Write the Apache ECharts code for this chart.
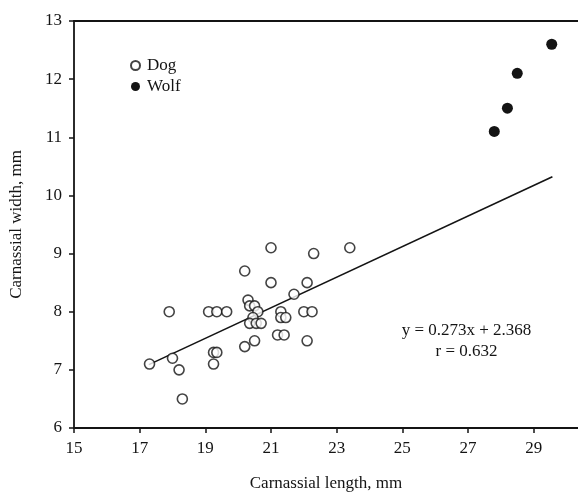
<!DOCTYPE html>
<html>
<head>
<meta charset="utf-8">
<script src="https://cdn.jsdelivr.net/npm/echarts@6/dist/echarts.min.js"></script>
<style>
html,body{margin:0;padding:0;background:#fff;}
#chart{width:578px;height:497px;}
</style>
</head>
<body>
<div id="chart"></div>
<script>
// Dog: carnassial length (mm) and width (mm)
const dogLength = [21.0, 22.3, 23.4, 20.2, 21.0, 22.1, 21.7, 20.3, 20.35, 20.5,
  17.9, 19.1, 19.35, 19.65, 20.6, 21.3, 22.0, 22.25, 20.45, 21.3, 21.45,
  20.35, 20.55, 20.7, 21.2, 21.4, 20.5, 22.1, 20.2, 19.25, 19.35, 18.0,
  17.3, 19.25, 18.2, 18.3];
const dogWidth = [9.1, 9.0, 9.1, 8.7, 8.5, 8.5, 8.3, 8.2, 8.1, 8.1,
  8.0, 8.0, 8.0, 8.0, 8.0, 8.0, 8.0, 8.0, 7.9, 7.9, 7.9,
  7.8, 7.8, 7.8, 7.6, 7.6, 7.5, 7.5, 7.4, 7.3, 7.3, 7.2,
  7.1, 7.1, 7.0, 6.5];
// Wolf
const wolfLength = [27.8, 28.2, 28.5, 29.55];
const wolfWidth = [11.1, 11.5, 12.1, 12.6];
// Regression line endpoints as drawn
const fitLength = [17.28, 29.57];
const fitWidth = [7.09, 10.32];
// Axes
const xMin = 15, xMax = 30.35, xStep = 2;
const yMin = 6, yMax = 13, yStep = 1;
const equationLines = ['y = 0.273x + 2.368', 'r = 0.632'];
const xTitle = 'Carnassial length, mm';
const yTitle = 'Carnassial width, mm';

const pair = (a, b) => a.map((v, i) => [v, b[i]]);
const FONT = 'Liberation Serif';
const INK = '#141414';

const chart = echarts.init(document.getElementById('chart'), null, {renderer: 'canvas'});
chart.setOption({
  animation: false,
  backgroundColor: '#fff',
  grid: {left: 69, right: 0, top: 21, bottom: 64, containLabel: false},
  legend: {
    data: ['Dog', 'Wolf'],
    orient: 'vertical',
    left: 130, top: 57, padding: 0,
    itemWidth: 9, itemHeight: 9, itemGap: 4,
    textStyle: {fontFamily: FONT, fontSize: 17, color: INK, padding: [0, 0, 0, 2]}
  },
  xAxis: [{
    type: 'value', min: xMin, max: xMax, interval: xStep,
    name: xTitle, nameLocation: 'middle', nameGap: 47,
    nameTextStyle: {fontFamily: FONT, fontSize: 17, color: INK},
    axisLine: {show: true, onZero: false, lineStyle: {color: INK, width: 1.8}},
    axisTick: {show: true, length: 5, lineStyle: {color: INK, width: 1.5}},
    axisLabel: {fontFamily: FONT, fontSize: 17, color: INK, margin: 12, showMaxLabel: false},
    splitLine: {show: false}
  }, {
    type: 'value', min: xMin, max: xMax, position: 'top',
    axisLine: {show: true, onZero: false, lineStyle: {color: INK, width: 1.8}},
    axisTick: {show: false}, axisLabel: {show: false}, splitLine: {show: false}
  }],
  yAxis: {
    type: 'value', min: yMin, max: yMax, interval: yStep,
    name: yTitle, nameLocation: 'middle', nameGap: 49,
    nameTextStyle: {fontFamily: FONT, fontSize: 17, color: INK},
    axisLine: {show: true, onZero: false, lineStyle: {color: INK, width: 1.8}},
    axisTick: {show: true, length: 5, lineStyle: {color: INK, width: 1.5}},
    axisLabel: {fontFamily: FONT, fontSize: 17, color: INK, margin: 12},
    splitLine: {show: false}
  },
  graphic: equationLines.map((t, i) => ({
    type: 'text',
    x: 466.5, y: 331 + i * 21,
    style: {text: t, fontFamily: FONT, fontSize: 17, fill: INK, align: 'center', verticalAlign: 'middle'}
  })),
  series: [{
    name: 'Fit', type: 'line', xAxisIndex: 0,
    data: pair(fitLength, fitWidth),
    showSymbol: false, symbol: 'none',
    lineStyle: {color: INK, width: 1.6}, silent: true, z: 1
  }, {
    name: 'Dog', type: 'scatter', xAxisIndex: 0,
    data: pair(dogLength, dogWidth),
    symbol: 'circle', symbolSize: 10,
    itemStyle: {color: '#fff', borderColor: INK, borderWidth: 1.6}, z: 3
  }, {
    name: 'Wolf', type: 'scatter', xAxisIndex: 0,
    data: pair(wolfLength, wolfWidth),
    symbol: 'circle', symbolSize: 11,
    itemStyle: {color: INK, opacity: 1}, z: 3
  }]
});
</script>
</body>
</html>
